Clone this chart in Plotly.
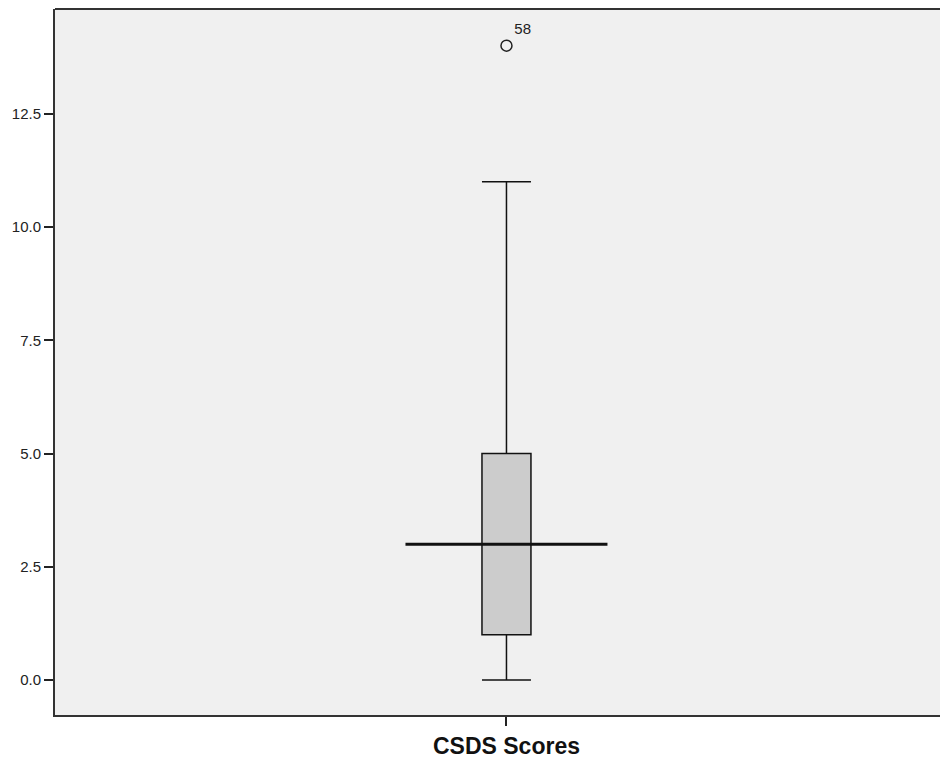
import plotly.graph_objects as go

# Data
category = ["CSDS Scores"]
q1 = [1.0]
median = [3.0]
q3 = [5.0]
lower_whisker = [0.0]
upper_whisker = [11.0]
outlier_values = [14.0]
outlier_labels = ["58"]
y_ticks = [0.0, 2.5, 5.0, 7.5, 10.0, 12.5]

FONT = "Liberation Sans, Arial, sans-serif"
xpos = 0.0
fig = go.Figure()

fig.add_trace(go.Box(
    x=[xpos], q1=q1, median=median, q3=q3,
    lowerfence=lower_whisker, upperfence=upper_whisker,
    width=0.1085, whiskerwidth=1,
    fillcolor="#cccccc",
    line=dict(color="#111111", width=1.5),
    boxpoints=False, showlegend=False, hoverinfo="skip",
))

# Median line extending beyond the box (SPSS style)
fig.add_trace(go.Scatter(
    x=[xpos - 0.2237, xpos + 0.2237], y=[median[0], median[0]],
    mode="lines", line=dict(color="#111111", width=3),
    showlegend=False, hoverinfo="skip",
))

# Outlier
fig.add_trace(go.Scatter(
    x=[xpos] * len(outlier_values), y=outlier_values,
    mode="markers+text", text=outlier_labels, textposition="top right",
    textfont=dict(family=FONT, size=15, color="#222222"),
    marker=dict(symbol="circle-open", size=11, color="#222222", line=dict(width=1.5)),
    showlegend=False, hoverinfo="skip",
))

fig.update_layout(
    width=940, height=752,
    margin=dict(l=47, r=0, t=1, b=45),
    paper_bgcolor="white",
    plot_bgcolor="#f0f0f0",
    font=dict(family=FONT, size=15, color="#222222"),
    xaxis=dict(
        range=[-1.0, 0.978],
        tickmode="array", tickvals=[xpos],
        ticktext=["<b>" + category[0] + "</b>"],
        tickfont=dict(size=23, color="#111111"),
        ticks="outside", ticklen=9, tickcolor="#222222", tickwidth=1.5,
        showgrid=False, zeroline=False,
        showline=True, linecolor="#333333", linewidth=2,
    ),
    yaxis=dict(
        range=[-0.77, 14.81],
        tickmode="array", tickvals=y_ticks,
        ticktext=[f"{v:.1f}" for v in y_ticks],
        tickfont=dict(size=15, color="#222222"),
        ticks="outside", ticklen=9, tickcolor="#222222", tickwidth=1.5,
        showgrid=False, zeroline=False,
        showline=True, linecolor="#333333", linewidth=2,
    ),
    shapes=[dict(type="line", xref="paper", yref="paper", x0=0, x1=1, y0=1, y1=1,
                 line=dict(color="#333333", width=2))],
)

fig.write_html("out.html")
